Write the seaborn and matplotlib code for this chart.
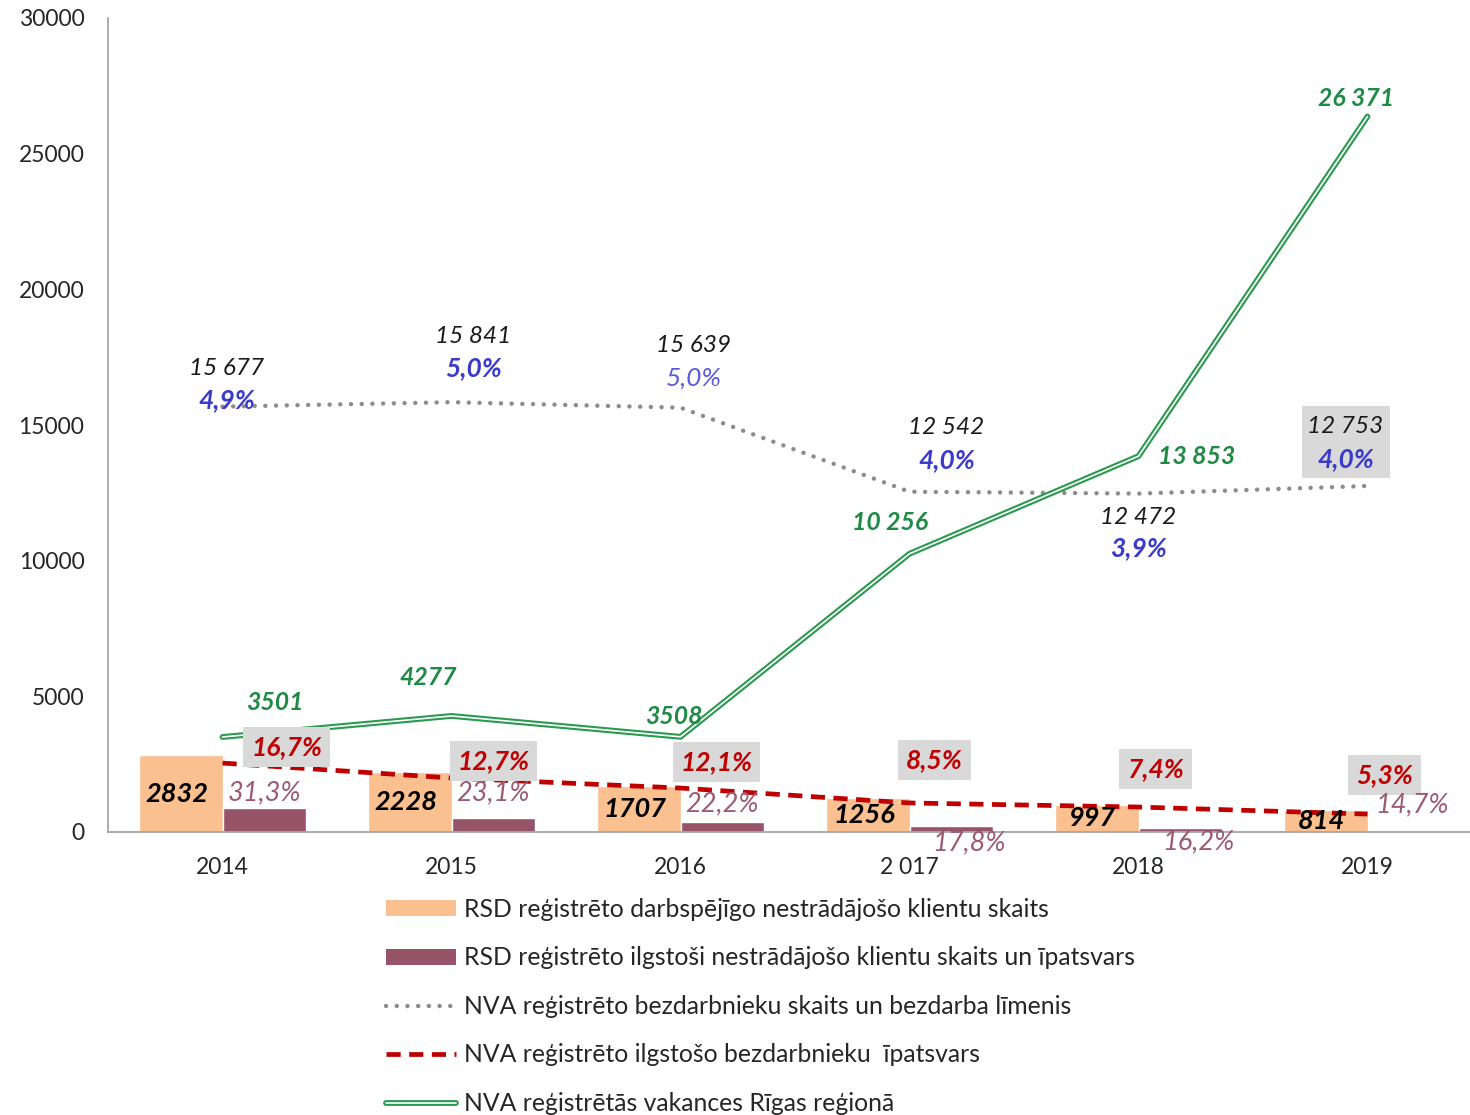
import numpy as np
import pandas as pd
import matplotlib.pyplot as plt
import matplotlib.patheffects as pe
from matplotlib.patches import Patch, Rectangle
from matplotlib.lines import Line2D
from matplotlib.transforms import IdentityTransform
import seaborn as sns

sns.set_style("white")
plt.rcParams["font.family"] = ["Lato", "DejaVu Sans"]

# data
years = ["2014", "2015", "2016", "2 017", "2018", "2019"]
rsd_clients = [2832, 2228, 1707, 1256, 997, 814]
rsd_longterm = [886, 515, 379, 224, 162, 40]
rsd_longterm_pct = ["31,3%", "23,1%", "22,2%", "17,8%", "16,2%", "14,7%"]
nva_unemployed = [15677, 15841, 15639, 12542, 12472, 12753]
nva_rate = ["4,9%", "5,0%", "5,0%", "4,0%", "3,9%", "4,0%"]
nva_longterm_line = [2540, 1990, 1620, 1070, 920, 660]
nva_longterm_pct = ["16,7%", "12,7%", "12,1%", "8,5%", "7,4%", "5,3%"]
vacancies = [3501, 4277, 3508, 10256, 13853, 26371]

names = ["RSD reģistrēto darbspējīgo nestrādājošo klientu skaits",
         "RSD reģistrēto ilgstoši nestrādājošo klientu skaits un īpatsvars",
         "NVA reģistrēto bezdarbnieku skaits un bezdarba līmenis",
         "NVA reģistrēto ilgstošo bezdarbnieku  īpatsvars",
         "NVA reģistrētās vakances Rīgas reģionā"]

c_orange = "#fac090"
c_purple = "#975468"
c_purple_txt = "#9c5b70"
c_gray = "#8c8c8c"
c_red = "#c00000"
c_green = "#2b9950"
c_green_txt = "#1e8a45"
c_blue = "#3a3acc"
c_box = "#d9d9d9"


def fmt(v, always=True):
    if always or v >= 10000:
        return f"{v:,}".replace(",", " ")
    return str(v)


idx = np.arange(len(years))
bars = pd.DataFrame({
    "pos": np.concatenate([idx, idx]),
    "value": rsd_clients + rsd_longterm,
    "series": [names[0]] * 6 + [names[1]] * 6,
})

fig = plt.figure(figsize=(14.7, 11.15), dpi=100)
ax = fig.add_axes([108 / 1470, 283 / 1115, 1374 / 1470, 814 / 1115])

sns.barplot(data=bars, x="pos", y="value", hue="series", native_scale=True,
            palette=[c_orange, c_purple], width=0.726, gap=0, saturation=1,
            legend=False, ax=ax, zorder=2)

sns.lineplot(x=idx, y=nva_unemployed, ax=ax, color=c_gray, lw=3.2,
             linestyle=(0, (0.01, 2.4)), dash_capstyle="round", zorder=3)
sns.lineplot(x=idx, y=nva_longterm_line, ax=ax, color=c_red, lw=3.4,
             linestyle=(0, (3.0, 1.8)), zorder=3)
sns.lineplot(x=idx, y=vacancies, ax=ax, color="white", lw=1.2, zorder=4,
             path_effects=[pe.Stroke(linewidth=4.2, foreground=c_green), pe.Normal()])

ax.set_xlim(-0.5, 5.5)
ax.set_ylim(0, 30000)
ax.set_yticks(range(0, 30001, 5000))
ax.set_xticks(idx)
ax.set_xticklabels(years)
ax.set_xlabel("")
ax.set_ylabel("")
ax.tick_params(axis="both", length=0, labelsize=16.5, labelcolor="#262626")
ax.tick_params(axis="y", pad=17)
ax.tick_params(axis="x", pad=18)
for s in ["top", "right"]:
    ax.spines[s].set_visible(False)
for s in ["left", "bottom"]:
    ax.spines[s].set_color("#a6a6a6")
    ax.spines[s].set_linewidth(1.3)

hw = 0.726 / 4  # half of one dodged bar


def note(txt, x, y, dx, dy, color, size=17.5, weight="bold", box=False, **kw):
    bb = dict(boxstyle="square,pad=0.3", fc=c_box, ec="none") if box else None
    ax.annotate(txt, (x, y), xytext=(dx, dy), textcoords="offset pixels",
                ha="center", va="center", color=color, fontsize=size,
                fontweight=weight, fontstyle="italic", bbox=bb, zorder=6, **kw)


# grey box behind the last unemployed label pair
px, py = ax.transData.transform((idx[5], nva_unemployed[5]))
ax.add_artist(Rectangle((px - 66, py + 8), 88, 72, transform=IdentityTransform(),
                        facecolor=c_box, edgecolor="none", zorder=5))

# NVA unemployed count + rate
num_off = [(4, 38), (22, 66), (13, 62), (37, 64), (0, -24), (-22, 59)]
pct_off = [(4, 6), (22, 34), (13, 30), (37, 32), (0, -55), (-22, 27)]
for i, v in enumerate(nva_unemployed):
    note(fmt(v), i, v, *num_off[i], "#1a1a1a", size=17.5, weight="normal")
    note(nva_rate[i], i, v, *pct_off[i], c_blue if i != 2 else "#5a5ae0",
         size=19, weight="bold" if i != 2 else "normal")

# vacancies
vac_off = [(52, 35), (-23, 38), (-7, 20), (-19, 31), (58, 0), (-11, 18)]
for i, v in enumerate(vacancies):
    note(fmt(v, always=False), i, v, *vac_off[i], c_green_txt, size=17.8)

# NVA long-term share
red_off = [(64, 16), (42, 17), (36, 26), (25, 43), (17, 38), (17, 39)]
for i, v in enumerate(nva_longterm_line):
    note(nva_longterm_pct[i], i, v, *red_off[i], c_red, size=19, box=True)

# RSD long-term share labels
pur_top = [886, 515, 379, 224, 162, 120]
pur_off = [(0, 15), (0, 25), (0, 18), (18, -17), (18, -14), (3, 24)]
for i, v in enumerate(pur_top):
    note(rsd_longterm_pct[i], i + hw, v, *pur_off[i], c_purple_txt, size=19.5,
         weight="normal")

# RSD clients inside orange bars
for i, v in enumerate(rsd_clients):
    note(str(v), i - hw, v / 2, -4, 0, "black", size=19.5)

handles = [
    Patch(facecolor=c_orange, edgecolor="none"),
    Patch(facecolor=c_purple, edgecolor="none"),
    Line2D([], [], color=c_gray, lw=3.2, linestyle=(0, (0.01, 2.4)), dash_capstyle="round"),
    Line2D([], [], color=c_red, lw=3.4, linestyle=(0, (3.0, 1.8))),
    Line2D([], [], color="white", lw=1.2,
           path_effects=[pe.Stroke(linewidth=4.2, foreground=c_green), pe.Normal()]),
]
leg = fig.legend(handles, names, loc="upper left", bbox_to_anchor=(386 / 1470, 1 - 898 / 1115),
                 frameon=False, fontsize=17.8, handlelength=2.85, handleheight=0.6,
                 handletextpad=0.3, labelspacing=1.03, borderpad=0, borderaxespad=0)
for t in leg.get_texts():
    t.set_color("#262626")

fig.savefig("out.png", dpi=100)
